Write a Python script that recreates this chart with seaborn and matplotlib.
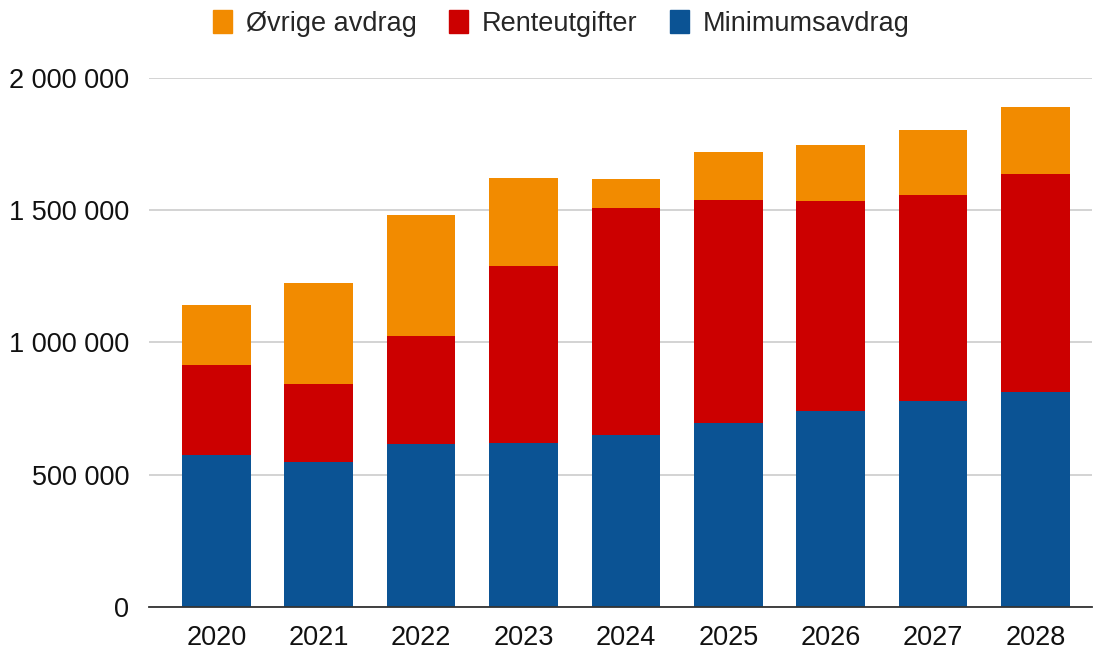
import matplotlib
matplotlib.use("Agg")
import matplotlib.pyplot as plt
import seaborn as sns
import numpy as np
from matplotlib.ticker import FuncFormatter
from matplotlib.patches import Patch

# -----------------------------
# Data
# -----------------------------
years = ["2020", "2021", "2022", "2023", "2024", "2025", "2026", "2027", "2028"]
minimumsavdrag = [575000, 549000, 615000, 621000, 650000, 696000, 741000, 779000, 812000]
renteutgifter = [338000, 293000, 408000, 669000, 859000, 844000, 793000, 780000, 823000]
ovrige_avdrag = [230000, 383000, 460000, 333000, 107000, 178000, 211000, 244000, 256000]

c_orange = "#f28b00"
c_red = "#cc0000"
c_blue = "#0b5394"

sns.set_style("white")
plt.rcParams["font.family"] = ["Liberation Sans", "DejaVu Sans"]

fig = plt.figure(figsize=(10.94, 6.49), dpi=100)
ax = fig.add_axes([0.136, 0.065, 0.862, 0.815])

blue = np.array(minimumsavdrag)
red_top = blue + np.array(renteutgifter)
total = red_top + np.array(ovrige_avdrag)

# stacked by overlaying cumulative totals
sns.barplot(x=years, y=total, color=c_orange, saturation=1, width=0.67, linewidth=0, ax=ax, zorder=2)
sns.barplot(x=years, y=red_top, color=c_red, saturation=1, width=0.67, linewidth=0, ax=ax, zorder=3)
sns.barplot(x=years, y=blue, color=c_blue, saturation=1, width=0.67, linewidth=0, ax=ax, zorder=4)

ax.set_ylim(0, 2000000)
ax.set_xlim(-0.66, 8.55)
ax.set_yticks([0, 500000, 1000000, 1500000, 2000000])
ax.yaxis.set_major_formatter(FuncFormatter(lambda v, p: f"{v:,.0f}".replace(",", " ")))
ax.grid(axis="y", color="#cccccc", linewidth=1.2, zorder=0)
ax.set_axisbelow(True)
for s in ["top", "right", "left"]:
    ax.spines[s].set_visible(False)
ax.spines["bottom"].set_color("#333333")
ax.spines["bottom"].set_linewidth(1.3)
ax.spines["bottom"].set_zorder(6)
ax.tick_params(axis="both", length=0, labelsize=19.5, colors="#111111")
ax.tick_params(axis="x", pad=13)
ax.tick_params(axis="y", pad=14)
ax.set_xlabel("")
ax.set_ylabel("")

handles = [
    Patch(color=c_orange, label="Øvrige avdrag"),
    Patch(color=c_red, label="Renteutgifter"),
    Patch(color=c_blue, label="Minimumsavdrag"),
]
fig.legend(handles=handles, loc="upper center", bbox_to_anchor=(0.513, 1.022), ncol=3,
           frameon=False, fontsize=19.5, handlelength=0.7, handleheight=0.9,
           handletextpad=0.5, columnspacing=1.2)

fig.savefig("out.png", dpi=100)
